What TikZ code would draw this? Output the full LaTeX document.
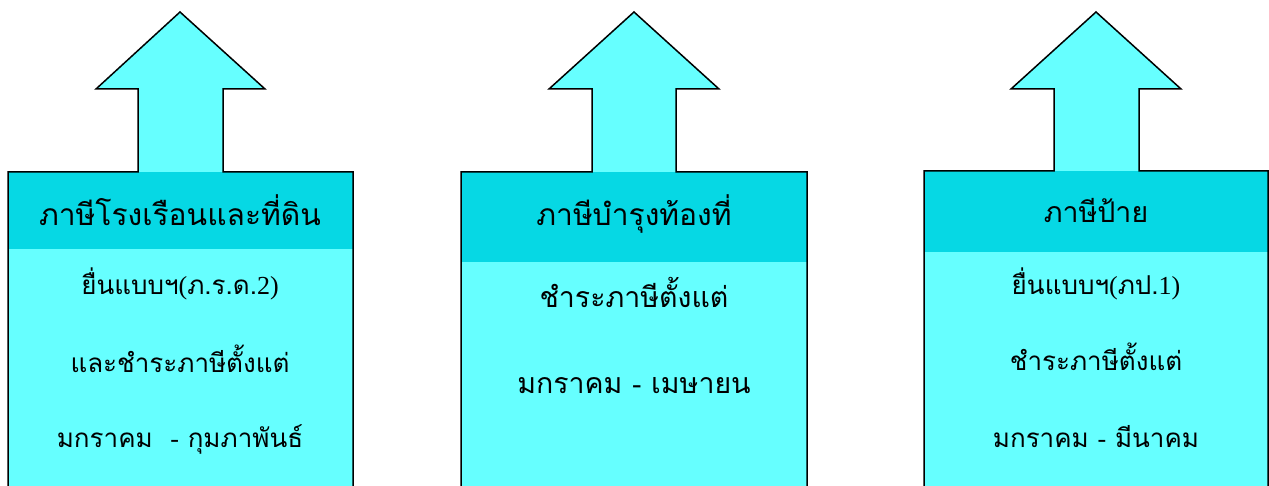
\documentclass[tikz,border=0pt]{standalone}
\usepackage{fontspec}
\setmainfont{Liberation Serif}
\newfontfamily\thaifont[Script=Thai]{Loma}
\definecolor{lightaqua}{RGB}{102,255,255}
\definecolor{headaqua}{RGB}{6,216,228}

\begin{document}
\begin{tikzpicture}[x=1pt,y=-1pt,line width=1.5pt,
    thaitext/.style={anchor=base,inner sep=0pt,font=\thaifont\fontsize{#1}{#1}\selectfont},
    thaitext/.default=30]
    \useasboundingbox (0,0) rectangle (1269,486);
    \clip (0,0) rectangle (1269,486);
    % ภาษีโรงเรือนและที่ดิน
    \fill[lightaqua] (8,500) -- (8,172) -- (138,172) -- (138,89) -- (96,89) -- (180,12) -- (265,89) -- (223,89) -- (223,172) -- (353,172) -- (353,500) -- cycle;
    \fill[headaqua] (8,172) rectangle (353,249);
    \draw (8,500) -- (8,172) -- (138,172) -- (138,89) -- (96,89) -- (180,12) -- (265,89) -- (223,89) -- (223,172) -- (353,172) -- (353,500);
    \node[thaitext] (house) at (180,226) {ภาษีโรงเรือนและที่ดิน};
    \node[thaitext=26] (house1) at (180,295) {ยื่นแบบฯ{\rmfamily(}ภ.ร.ด.{\rmfamily 2)}};
    \node[thaitext=26] (house2) at (180,372) {และชำระภาษีตั้งแต่};
    \node[thaitext=26] (house3) at (180,447) {มกราคม\ \ {\rmfamily -}\ กุมภาพันธ์};
    % ภาษีบำรุงท้องที่
    \fill[lightaqua] (461,500) -- (461,172) -- (592,172) -- (592,89) -- (549,89) -- (634,12) -- (719,89) -- (676,89) -- (676,172) -- (807,172) -- (807,500) -- cycle;
    \fill[headaqua] (461,172) rectangle (807,262);
    \draw (461,500) -- (461,172) -- (592,172) -- (592,89) -- (549,89) -- (634,12) -- (719,89) -- (676,89) -- (676,172) -- (807,172) -- (807,500);
    \node[thaitext] (local) at (634,226) {ภาษีบำรุงท้องที่};
    \node[thaitext=28.5] (local1) at (634,308) {ชำระภาษีตั้งแต่};
    \node[thaitext=28.5] (local2) at (634,393) {มกราคม {\rmfamily -} เมษายน};
    % ภาษีป้าย
    \fill[lightaqua] (924,500) -- (924,171) -- (1054,171) -- (1054,89) -- (1011,89) -- (1096,12) -- (1181,89) -- (1139,89) -- (1139,171) -- (1268,171) -- (1268,500) -- cycle;
    \fill[headaqua] (924,171) rectangle (1268,252);
    \draw (924,500) -- (924,171) -- (1054,171) -- (1054,89) -- (1011,89) -- (1096,12) -- (1181,89) -- (1139,89) -- (1139,171) -- (1268,171) -- (1268,500);
    \node[thaitext=28.5] (sign) at (1096,223) {ภาษีป้าย};
    \node[thaitext=26] (sign1) at (1096,295) {ยื่นแบบฯ{\rmfamily(}ภป.{\rmfamily 1)}};
    \node[thaitext=26] (sign2) at (1096,370) {ชำระภาษีตั้งแต่};
    \node[thaitext=26] (sign3) at (1096,447) {มกราคม {\rmfamily -} มีนาคม};
\end{tikzpicture}
\end{document}
